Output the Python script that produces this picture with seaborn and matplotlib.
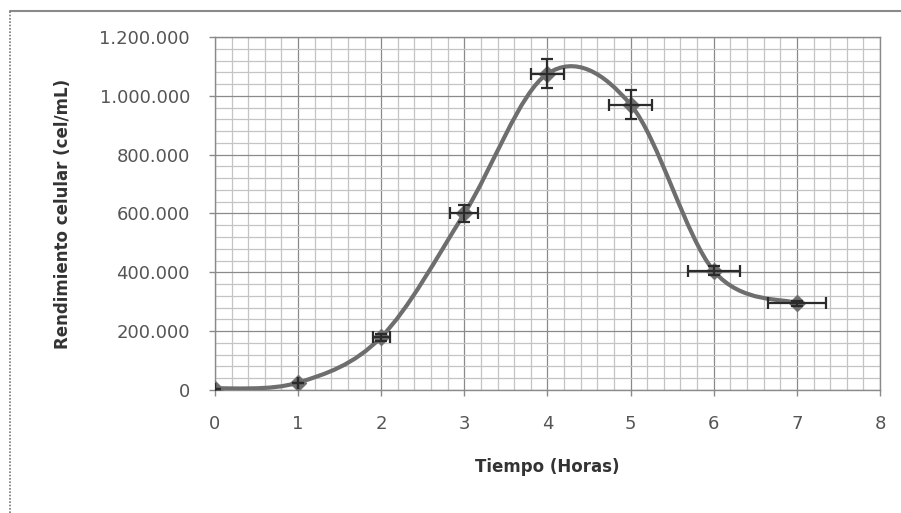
import numpy as np
import matplotlib
matplotlib.use("Agg")
import matplotlib.pyplot as plt
import seaborn as sns
from matplotlib.path import Path
from matplotlib.patches import PathPatch
from matplotlib.lines import Line2D
from matplotlib.ticker import MultipleLocator, FuncFormatter

horas = [0, 1, 2, 3, 4, 5, 6, 7]
rendimiento = [5000, 25000, 180000, 600000, 1075000, 970000, 405000, 295000]
err_horas = [0, 0, 0.1, 0.17, 0.2, 0.26, 0.31, 0.35]
err_rend = [0, 0, 12000, 30000, 50000, 50000, 15000, 8000]

sns.set_style("white")
plt.rcParams['font.family'] = ['DejaVu Sans']

fig = plt.figure(figsize=(9.01, 5.13), dpi=100)
ax = fig.add_axes([0.2386, 0.2398, 0.7381, 0.6881])

# smooth line (Excel style) as bezier segments through the data points
pts = np.column_stack([horas, rendimiento]).astype(float)
verts = [pts[0]]
codes = [Path.MOVETO]
n = len(pts)
for i in range(n - 1):
    p_prev = pts[max(i - 1, 0)]
    p_next2 = pts[min(i + 2, n - 1)]
    c1 = pts[i] + (pts[i + 1] - p_prev) / 6
    c2 = pts[i + 1] - (p_next2 - pts[i]) / 6
    verts += [c1, c2, pts[i + 1]]
    codes += [Path.CURVE4] * 3
ax.add_patch(PathPatch(Path(verts, codes), facecolor='none', edgecolor='#6e6e6e',
                       lw=3.0, zorder=3, capstyle='round'))

sns.scatterplot(x=horas, y=rendimiento, marker='D', s=70, color='#6e6e6e',
                edgecolor='#6e6e6e', ax=ax, zorder=4)
ax.errorbar(horas, rendimiento, xerr=err_horas, yerr=err_rend, fmt='none',
            ecolor='#2b2b2b', elinewidth=1.6, capsize=4, capthick=1.6, zorder=5)

ax.set_xlim(0, 8)
ax.set_ylim(0, 1200000)
ax.xaxis.set_major_locator(MultipleLocator(1))
ax.xaxis.set_minor_locator(MultipleLocator(0.2))
ax.yaxis.set_major_locator(MultipleLocator(200000))
ax.yaxis.set_minor_locator(MultipleLocator(40000))
ax.yaxis.set_major_formatter(FuncFormatter(lambda v, p: f"{int(v):,}".replace(',', '.')))

ax.grid(which='major', color='#8a8a8a', lw=0.9)
ax.grid(which='minor', color='#c4c4c4', lw=0.9)
ax.set_axisbelow(True)
for s in ax.spines.values():
    s.set_color('#8a8a8a')
    s.set_linewidth(1.0)

ax.tick_params(axis='both', which='major', direction='out', length=4, width=1,
               color='#8a8a8a', labelsize=13, labelcolor='#555555', bottom=True, left=True)
ax.tick_params(axis='x', pad=14)
ax.tick_params(axis='y', pad=14)
ax.tick_params(which='minor', length=0)

ax.set_xlabel('Tiempo (Horas)', fontsize=12, fontweight='bold', color='#333333', labelpad=18)
ax.set_ylabel('Rendimiento celular (cel/mL)', fontsize=12, fontweight='bold', color='#333333', labelpad=20)

# outer chart frame (top solid, left dotted)
fig.add_artist(Line2D([0.011, 1.0], [0.979, 0.979], transform=fig.transFigure,
                      color='#8a8a8a', lw=1.5))
fig.add_artist(Line2D([0.011, 0.011], [0.0, 0.979], transform=fig.transFigure,
                      color='#777777', lw=1.2, linestyle=(0, (1, 1))))

fig.savefig('out.png', dpi=100)
